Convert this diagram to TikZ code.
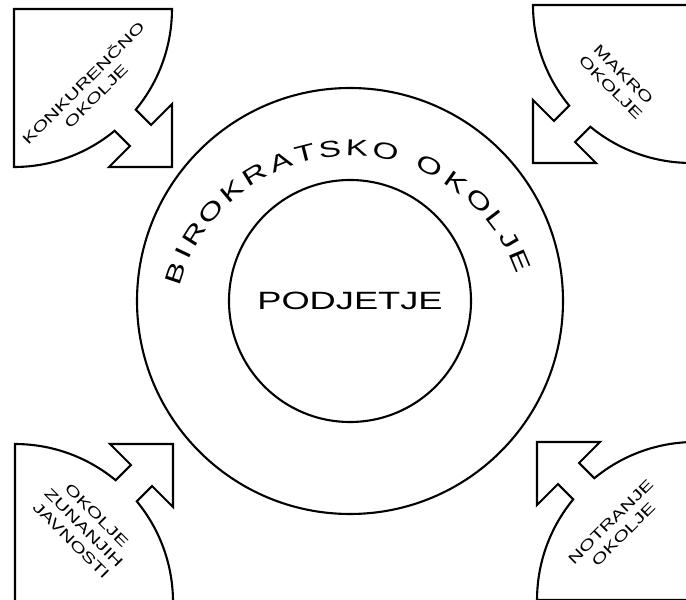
\documentclass[tikz,border=0pt]{standalone}
\usepackage{fontspec}
\setmainfont{Liberation Sans}
\newfontfamily\widesans[FakeStretch=1.45]{Liberation Sans}
\usepackage{tikz}

\begin{document}
\begin{tikzpicture}[x=1pt, y=1pt, line width=2.1pt, line join=miter,
    lbl/.style={font=\widesans\fontsize{14.5}{18}\selectfont, align=center, inner sep=0pt},
    arcltr/.style={font=\widesans\fontsize{23}{23}\selectfont, inner sep=0pt},
    ring/.style={draw, circle, inner sep=0pt}]
  \useasboundingbox (0,0) rectangle (686,600);
  \def\rsec{158}

  % four quarter pieces with an arrow into the middle
  \foreach \cx/\cy/\rot in {14/591/-90, 691/595/180, 15/-2/0, 695/0/90} {
    \begin{scope}[shift={(\cx,\cy)}, rotate=\rot]
      \draw (0,0) -- (\rsec,0) arc[start angle=0, end angle=39.55, radius=\rsec]
        -- (137.1,115.9) -- (158,95) -- (158,158) -- (95,158) -- (115.9,137.1)
        -- (100.6,121.8) arc[start angle=50.45, end angle=90, radius=\rsec] -- cycle;
    \end{scope}
  }
  \node[lbl, rotate=45] (konk) at (89,511) {KONKURENČNO\\OKOLJE};
  \node[lbl, rotate=-45] (makro) at (617,519) {MAKRO\\OKOLJE};
  \node[lbl, rotate=-45] (javn) at (84,72) {OKOLJE\\ZUNANJIH\\JAVNOSTI};
  \node[lbl, rotate=45] (notr) at (617,72) {NOTRANJE\\OKOLJE};

  % the two rings
  \node[ring, minimum size=426pt] (birok) at (350,299) {};
  \node[ring, minimum size=242pt, font=\widesans\fontsize{25}{25}\selectfont] (podj) at (350,299) {PODJETJE};

  \coordinate (arcc) at (350,268);
  \foreach \ch/\ang [count=\i] in {B/161.5, I/154.7, R/147.7, O/138.9, K/129.9, R/121.2,
      A/112.2, T/104.2, S/96.3, K/87.8, O/78.8, O/64.2, K/54.6, O/45.5, L/37.3, J/30, E/22.7}
    \node[arcltr, rotate=\ang-90] (bo\i) at ([shift={(\ang:184)}]arcc) {\ch};
\end{tikzpicture}
\end{document}
